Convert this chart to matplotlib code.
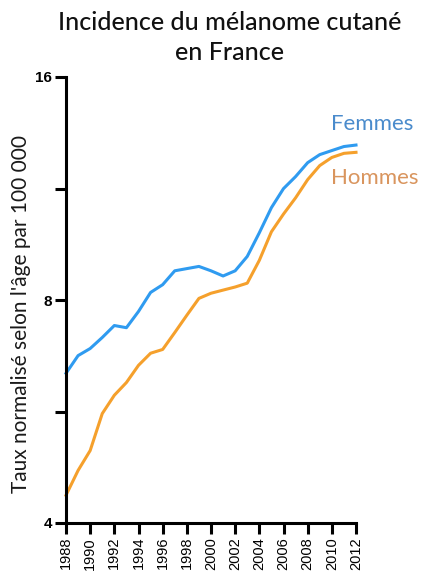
import matplotlib
matplotlib.use("Agg")
import matplotlib.pyplot as plt
from matplotlib.ticker import FixedLocator, NullFormatter
import numpy as np

years = list(range(1988, 2013))
femmes = [6.37, 6.73, 6.88, 7.12, 7.39, 7.34, 7.72, 8.19, 8.39, 8.76, 8.82, 8.88,
          8.76, 8.62, 8.76, 9.16, 9.86, 10.66, 11.31, 11.74, 12.26, 12.57, 12.73,
          12.89, 12.95]
hommes = [4.36, 4.71, 5.01, 5.62, 5.95, 6.19, 6.53, 6.78, 6.86, 7.23, 7.63, 8.04,
          8.17, 8.25, 8.33, 8.43, 9.05, 9.89, 10.45, 10.99, 11.63, 12.15, 12.46,
          12.62, 12.66]
xticks = list(range(1988, 2013, 2))
yticks = [4, 8, 16]
yminor = [4 * 2 ** 0.5, 8 * 2 ** 0.5]

fig = plt.figure(figsize=(4.21, 5.74), dpi=100)
ax = fig.add_axes([66 / 421, 1 - 523 / 574, 290 / 421, 446 / 574])

ax.plot(years, femmes, color="#2f9bf0", lw=2.2, clip_on=False)
ax.plot(years, hommes, color="#f5a02c", lw=2.2, clip_on=False)

ax.set_yscale("log", base=2)
ax.set_ylim(4, 16)
ax.set_xlim(1988, 2012)
ax.yaxis.set_major_locator(FixedLocator(yticks))
ax.yaxis.set_minor_locator(FixedLocator(yminor))
ax.yaxis.set_minor_formatter(NullFormatter())
ax.set_yticklabels([str(v) for v in yticks], fontweight="bold",
                   fontfamily="Liberation Sans", fontsize=11)
ax.set_xticks(xticks)
ax.set_xticklabels([str(v) for v in xticks], rotation=90,
                   fontfamily="Liberation Sans", fontsize=10.5)

for s in ["top", "right"]:
    ax.spines[s].set_visible(False)
for s in ["left", "bottom"]:
    ax.spines[s].set_linewidth(2.2)
ax.tick_params(axis="both", which="both", length=8, width=2.2, direction="out", pad=2)

ax.set_ylabel("Taux normalisé selon l'âge par 100 000", fontfamily="Lato",
              fontsize=15, color="#1a1a1a")
ax.yaxis.set_label_coords((31 - 66) / 290, (523 - 314) / 446)

fig.text(0.545, 1 - 11 / 574, "Incidence du mélanome cutané\nen France", ha="center",
         va="top", fontfamily="Lato", fontsize=18, linespacing=1.35, color="#111111",
         fontweight="bold" if False else "medium")

fig.text(331 / 421, 1 - 124 / 574, "Femmes", color="#4a8bcc", fontfamily="Lato",
         fontsize=16, va="center", ha="left")
fig.text(331 / 421, 1 - 178 / 574, "Hommes", color="#d9955e", fontfamily="Lato",
         fontsize=16, va="center", ha="left")

fig.savefig("out.png", dpi=100)
